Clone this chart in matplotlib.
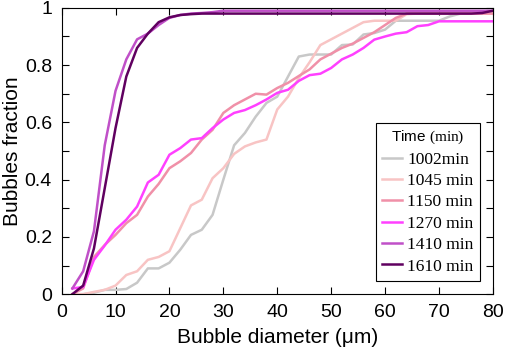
import numpy as np
import matplotlib
matplotlib.use("Agg")
import matplotlib.pyplot as plt
from matplotlib.ticker import MultipleLocator, FuncFormatter

plt.rcParams['font.family'] = ['Liberation Sans', 'DejaVu Sans']
plt.rcParams['mathtext.fontset'] = 'custom'
plt.rcParams['mathtext.rm'] = 'Liberation Serif'

# bubble diameter (um), every 2 um
diam = np.arange(2, 81, 2)

t1002 = [0, 0, 0.005, 0.015, 0.015, 0.018, 0.04, 0.09, 0.09, 0.11,
         0.155, 0.207, 0.225, 0.277, 0.40, 0.52, 0.563, 0.62, 0.668, 0.69,
         0.76, 0.83, 0.837, 0.837, 0.837, 0.87, 0.872, 0.907, 0.912, 0.924,
         0.955, 0.955, 0.955, 0.955, 0.955, 0.97, 0.98, 0.98, 0.983, 0.985]
t1045 = [0, 0, 0.008, 0.015, 0.03, 0.067, 0.08, 0.12, 0.13, 0.15,
         0.23, 0.31, 0.33, 0.405, 0.44, 0.49, 0.516, 0.53, 0.54, 0.645,
         0.69, 0.755, 0.81, 0.87, 0.89, 0.91, 0.93, 0.95, 0.955, 0.955,
         0.955, 0.978, 0.98, 0.98, 0.98, 0.98, 0.98, 0.98, 0.98, 0.98]
t1150 = [0, 0.02, 0.13, 0.172, 0.207, 0.248, 0.277, 0.341, 0.385, 0.44,
         0.464, 0.493, 0.54, 0.574, 0.633, 0.66, 0.68, 0.70, 0.697, 0.72,
         0.738, 0.762, 0.785, 0.82, 0.84, 0.86, 0.875, 0.895, 0.915, 0.94,
         0.965, 0.98, 0.98, 0.98, 0.98, 0.98, 0.98, 0.98, 0.98, 0.98]
t1270 = [0.02, 0.025, 0.12, 0.17, 0.225, 0.26, 0.306, 0.39, 0.417, 0.487,
         0.51, 0.54, 0.545, 0.58, 0.61, 0.633, 0.643, 0.66, 0.68, 0.703,
         0.714, 0.745, 0.765, 0.77, 0.79, 0.82, 0.837, 0.86, 0.889, 0.90,
         0.91, 0.915, 0.936, 0.94, 0.953, 0.953, 0.953, 0.953, 0.953, 0.953]
t1410 = [0.02, 0.08, 0.22, 0.52, 0.71, 0.82, 0.89, 0.91, 0.94, 0.965,
         0.975, 0.98, 0.982, 0.985, 0.99, 0.99, 0.99, 0.99, 0.99, 0.99,
         0.99, 0.99, 0.99, 0.99, 0.99, 0.99, 0.99, 0.99, 0.99, 0.99,
         0.99, 0.99, 0.99, 0.99, 0.99, 0.99, 0.99, 0.99, 0.99, 0.99]
t1610 = [0, 0.03, 0.16, 0.37, 0.58, 0.76, 0.86, 0.91, 0.95, 0.967,
         0.975, 0.978, 0.98, 0.98, 0.98, 0.98, 0.98, 0.98, 0.98, 0.98,
         0.98, 0.98, 0.98, 0.98, 0.98, 0.98, 0.98, 0.98, 0.98, 0.98,
         0.98, 0.98, 0.98, 0.98, 0.98, 0.98, 0.98, 0.98, 0.982, 0.99]

series = [t1002, t1045, t1150, t1270, t1410, t1610]
labels = ['1002min', '1045 min', '1150 min', '1270 min', '1410 min', '1610 min']
colors = ['#c8c8c8', '#f8c4c4', '#f090a8', '#ff40ff', '#c050c8', '#600060']

fig = plt.figure(figsize=(5.05, 3.57), dpi=100)
ax = fig.add_axes([0.122, 0.176, 0.854, 0.802])

for vals, lab, col in zip(series, labels, colors):
    ax.plot(diam, vals, color=col, lw=1.8, label=lab)

ax.set_xlim(0, 80)
ax.set_ylim(0, 1)
ax.xaxis.set_major_locator(MultipleLocator(10))
ax.yaxis.set_major_locator(MultipleLocator(0.1))
ax.yaxis.set_major_formatter(FuncFormatter(
    lambda v, p: ('%g' % round(v, 1)) if round(v * 10) % 2 == 0 else ''))
ax.tick_params(direction='in', length=5, width=0.8, top=True, right=True,
               labelsize=14, pad=7)
for s in ax.spines.values():
    s.set_linewidth(0.8)

ax.set_xlabel('Bubble diameter (\u03bcm)', fontsize=15, labelpad=5)
ax.set_ylabel('Bubbles fraction', fontsize=15, labelpad=2)

leg = ax.legend(loc='upper left', bbox_to_anchor=(0.729, 0.598),
                title=r'Time $\mathrm{(min)}$', title_fontsize=11,
                prop={'family': 'Liberation Serif', 'size': 12.5},
                frameon=True, fancybox=False, framealpha=1,
                edgecolor='black', handlelength=1.15, handletextpad=0.3,
                labelspacing=0.3, borderpad=0.35, borderaxespad=0)
leg.get_frame().set_linewidth(0.8)

fig.savefig('out.png', dpi=100)
